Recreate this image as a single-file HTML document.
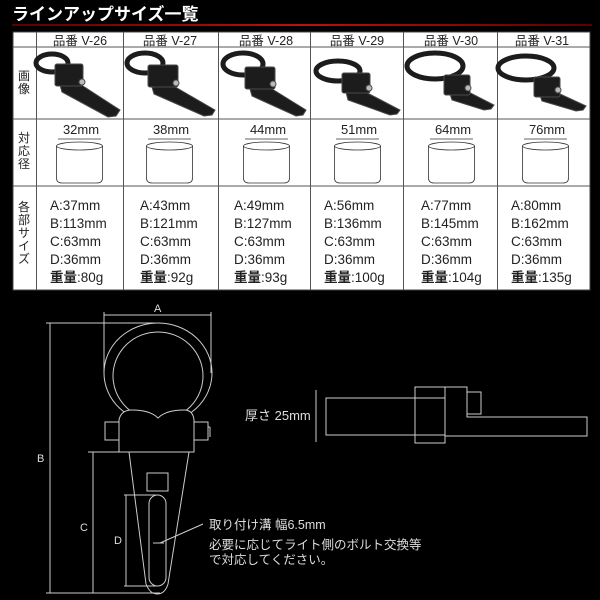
<!DOCTYPE html>
<html><head><meta charset="utf-8">
<style>
html,body{margin:0;padding:0;background:#000;}
svg{display:block;}
text{font-family:"Liberation Sans","Noto Sans CJK JP",sans-serif;}
</style></head>
<body>
<svg width="600" height="600" viewBox="0 0 600 600" xmlns="http://www.w3.org/2000/svg">
<defs>
<linearGradient id="red" x1="0" x2="1"><stop offset="0" stop-color="#5a0000"/><stop offset="0.5" stop-color="#c01010"/><stop offset="1" stop-color="#5a0000"/></linearGradient>
</defs>
<rect width="600" height="600" fill="#000"/>
<text x="12" y="20" font-size="17" font-weight="bold" fill="#fff">ラインアップサイズ一覧</text>
<rect x="12" y="24" width="580" height="2" fill="url(#red)"/>

<rect x="13" y="32" width="577" height="258" fill="#fff" stroke="#444" stroke-width="1"/>
<g stroke="#555" stroke-width="1">
<line x1="13" y1="47" x2="590" y2="47"/>
<line x1="13" y1="119" x2="590" y2="119"/>
<line x1="13" y1="186" x2="590" y2="186"/>
<line x1="36.5" y1="32" x2="36.5" y2="290"/>
<line x1="123.5" y1="32" x2="123.5" y2="290"/>
<line x1="218.5" y1="32" x2="218.5" y2="290"/>
<line x1="310.5" y1="32" x2="310.5" y2="290"/>
<line x1="403.5" y1="32" x2="403.5" y2="290"/>
<line x1="497.5" y1="32" x2="497.5" y2="290"/>
</g>
<g font-size="12" fill="#222">
<text x="24" y="80" text-anchor="middle">画</text><text x="24" y="93" text-anchor="middle">像</text>
<text x="24" y="142" text-anchor="middle">対</text><text x="24" y="155" text-anchor="middle">応</text><text x="24" y="168" text-anchor="middle">径</text>
<text x="24" y="211" text-anchor="middle">各</text><text x="24" y="224" text-anchor="middle">部</text><text x="24" y="237" text-anchor="middle">サ</text><text x="24" y="250" text-anchor="middle">イ</text><text x="24" y="263" text-anchor="middle">ズ</text>
</g>
<g font-size="12.5" fill="#222" text-anchor="middle">
<text x="80" y="45">品番 V-26</text>
<text x="170" y="45">品番 V-27</text>
<text x="266" y="45">品番 V-28</text>
<text x="357" y="45">品番 V-29</text>
<text x="451" y="45">品番 V-30</text>
<text x="542" y="45">品番 V-31</text>
</g>

<g fill="#1c1c1c" stroke="#4a4a4a" stroke-width="1">
<ellipse cx="52" cy="63" rx="16" ry="9" fill="none" stroke="#1c1c1c" stroke-width="5"/>
<polygon points="58,78 66,75 120,110 116,116 108,117 62,92"/>
<rect x="55" y="64" width="28" height="22" rx="2"/>
<circle cx="82" cy="82" r="3" fill="#bbb"/>
<ellipse cx="145" cy="63" rx="18" ry="10" fill="none" stroke="#1c1c1c" stroke-width="5"/>
<polygon points="150,80 158,77 215,110 212,115 204,116 154,94"/>
<rect x="148" y="65" width="30" height="22" rx="2"/>
<circle cx="176" cy="83" r="3" fill="#bbb"/>
<ellipse cx="243" cy="64" rx="20" ry="11" fill="none" stroke="#1c1c1c" stroke-width="5"/>
<polygon points="248,82 256,79 306,110 303,115 296,116 252,96"/>
<rect x="245" y="67" width="30" height="22" rx="2"/>
<circle cx="273" cy="84" r="3" fill="#bbb"/>
<ellipse cx="338" cy="71" rx="22" ry="10" fill="none" stroke="#1c1c1c" stroke-width="5"/>
<polygon points="345,88 352,85 400,110 397,114 390,115 348,100"/>
<rect x="342" y="73" width="28" height="20" rx="2"/>
<circle cx="369" cy="88" r="3" fill="#bbb"/>
<ellipse cx="435" cy="66" rx="28" ry="13" fill="none" stroke="#1c1c1c" stroke-width="5"/>
<polygon points="448,88 455,85 494,105 491,109 484,110 452,100"/>
<rect x="444" y="75" width="26" height="20" rx="2"/>
<circle cx="468" cy="88" r="3" fill="#bbb"/>
<ellipse cx="526" cy="68" rx="28" ry="12" fill="none" stroke="#1c1c1c" stroke-width="5"/>
<polygon points="538,90 545,87 586,106 583,110 576,111 542,101"/>
<rect x="534" y="77" width="26" height="20" rx="2"/>
<circle cx="558" cy="90" r="3" fill="#bbb"/>
</g>

<g font-size="13" fill="#222" text-anchor="middle">
<text x="81" y="134">32mm</text><text x="171" y="134">38mm</text><text x="268" y="134">44mm</text>
<text x="359" y="134">51mm</text><text x="453" y="134">64mm</text><text x="547" y="134">76mm</text>
</g>
<g fill="none" stroke="#333" stroke-width="0.8">
<g id="cy1"><line x1="58" y1="139" x2="101" y2="139"/><ellipse cx="79.5" cy="146" rx="23" ry="4"/><path d="M56.5 146 V178 Q56.5 183 62 183 H97 Q102.5 183 102.5 178 V146"/></g>
<use href="#cy1" x="90"/>
<use href="#cy1" x="187"/>
<use href="#cy1" x="278"/>
<use href="#cy1" x="372"/>
<use href="#cy1" x="466"/>
</g>

<g font-size="13.5" fill="#222">
<g transform="translate(50,0)"><text y="210">A:37mm</text><text y="228">B:113mm</text><text y="246">C:63mm</text><text y="264">D:36mm</text><text y="282"><tspan font-weight="bold">重量</tspan>:80g</text></g>
<g transform="translate(140,0)"><text y="210">A:43mm</text><text y="228">B:121mm</text><text y="246">C:63mm</text><text y="264">D:36mm</text><text y="282"><tspan font-weight="bold">重量</tspan>:92g</text></g>
<g transform="translate(234,0)"><text y="210">A:49mm</text><text y="228">B:127mm</text><text y="246">C:63mm</text><text y="264">D:36mm</text><text y="282"><tspan font-weight="bold">重量</tspan>:93g</text></g>
<g transform="translate(324,0)"><text y="210">A:56mm</text><text y="228">B:136mm</text><text y="246">C:63mm</text><text y="264">D:36mm</text><text y="282"><tspan font-weight="bold">重量</tspan>:100g</text></g>
<g transform="translate(421,0)"><text y="210">A:77mm</text><text y="228">B:145mm</text><text y="246">C:63mm</text><text y="264">D:36mm</text><text y="282"><tspan font-weight="bold">重量</tspan>:104g</text></g>
<g transform="translate(511,0)"><text y="210">A:80mm</text><text y="228">B:162mm</text><text y="246">C:63mm</text><text y="264">D:36mm</text><text y="282"><tspan font-weight="bold">重量</tspan>:135g</text></g>
</g>

<g fill="none" stroke="#ccc" stroke-width="1">
<line x1="104" y1="315" x2="211" y2="315"/>
<line x1="104" y1="312" x2="104" y2="373"/>
<line x1="211" y1="312" x2="211" y2="373"/>
<line x1="50" y1="323" x2="50" y2="593"/>
<line x1="46" y1="323" x2="155" y2="323"/>
<line x1="46" y1="593" x2="160" y2="593"/>
<line x1="93" y1="452" x2="93" y2="593"/>
<line x1="88" y1="452" x2="119" y2="452"/>
<line x1="126" y1="495" x2="126" y2="586"/>
<line x1="124" y1="495" x2="157" y2="495"/>
<line x1="124" y1="586" x2="157" y2="586"/>
<ellipse cx="158" cy="373" rx="54" ry="50"/>
<ellipse cx="158" cy="376" rx="45" ry="44"/>
<path d="M119 452 V420 Q121 410 132 410 Q150 410 158 418 Q166 410 184 410 Q193 410 194 420 V452 Z" fill="#000"/>
<rect x="105" y="422" width="14" height="18"/>
<rect x="194" y="422" width="14" height="18"/>
<line x1="208" y1="427" x2="210" y2="427"/><line x1="210" y1="427" x2="210" y2="437"/>
<path d="M129 452 L146 584 Q150 594 157 594 Q165 594 168 584 L189 452"/>
<rect x="147" y="473" width="21" height="18"/>
<rect x="149" y="495" width="17" height="91" rx="8.5"/>
<line x1="153" y1="543" x2="164" y2="543"/>
<line x1="160" y1="543" x2="203" y2="524"/>
</g>
<g font-size="11" fill="#ddd">
<text x="154" y="312">A</text>
<text x="37" y="462">B</text>
<text x="80" y="531">C</text>
<text x="114" y="544">D</text>
<text x="209" y="529" font-size="12.5">取り付け溝 幅6.5mm</text>
<text x="209" y="549" font-size="12.5">必要に応じてライト側のボルト交換等</text>
<text x="209" y="564" font-size="12.5">で対応してください。</text>
<text x="245" y="420" font-size="13">厚さ 25mm</text>
</g>

<g fill="none" stroke="#ccc" stroke-width="1">
<line x1="316" y1="390" x2="316" y2="442"/>
<rect x="326" y="398" width="119" height="37"/>
<rect x="415" y="387" width="30" height="56"/>
<path d="M445 387 H467 V417 H587 V436 H445"/>
<rect x="467" y="392" width="14" height="22"/>
</g>
</svg>
</body></html>
